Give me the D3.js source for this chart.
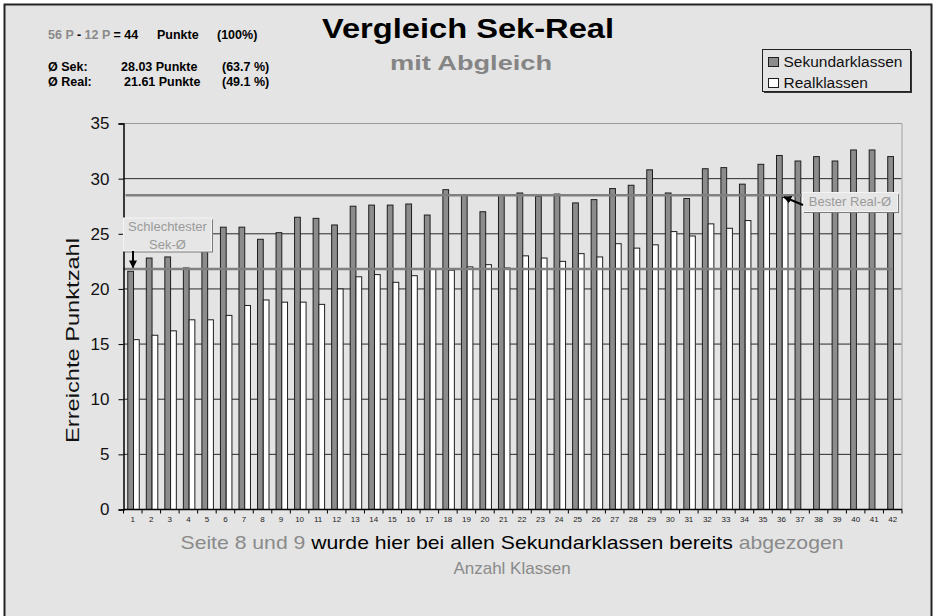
<!DOCTYPE html>
<html>
<head>
<meta charset="utf-8">
<script src="https://cdn.jsdelivr.net/npm/d3@7"></script>
<style>
  body { margin: 0; background: #fff; }
  svg { display: block; font-family: "Liberation Sans", Arial, sans-serif; }
</style>
</head>
<body>
<svg id="chart" width="935" height="616"></svg>
<script>
// tick labels on the x axis (class numbers)
var classes = [1, 2, 3, 4, 5, 6, 7, 8, 9, 10, 11, 12, 13, 14, 15, 16, 17, 18, 19, 20, 21,
               22, 23, 24, 25, 26, 27, 28, 29, 30, 31, 32, 33, 34, 35, 36, 37, 38, 39, 40, 41, 42];

// Sekundarklassen, reached points per class
var sekValues = [21.6, 22.8, 22.9, 21.9, 24.2, 25.6, 25.6, 24.5, 25.1, 26.5, 26.4, 25.8, 27.5, 27.6,
                 27.6, 27.7, 26.7, 29.0, 28.5, 27.0, 28.5, 28.7, 28.4, 28.6, 27.8, 28.1, 29.1, 29.4,
                 30.8, 28.7, 28.2, 30.9, 31.0, 29.5, 31.3, 32.1, 31.6, 32.0, 31.6, 32.6, 32.6, 32.0];

// Realklassen, only 36 classes
var realValues = [15.4, 15.8, 16.2, 17.2, 17.2, 17.6, 18.5, 19.0, 18.8, 18.8, 18.6, 20.0, 21.1, 21.3,
                  20.6, 21.2, 21.8, 21.7, 22.0, 22.2, 21.9, 23.0, 22.8, 22.5, 23.2, 22.9, 24.1, 23.7,
                  24.0, 25.2, 24.8, 25.9, 25.5, 26.2, 28.5, 28.3, null, null, null, null, null, null];

var yTicks = [0, 5, 10, 15, 20, 25, 30, 35];
var seriesKeys = ["sek", "real"];
var seriesNames = ["Sekundarklassen", "Realklassen"];
var worstSekAvg = 21.8;
var bestRealAvg = 28.5;

var svg = d3.select("#chart"),
    plotLeft = 123.5, plotRight = 902, plotTop = 123.5, plotBottom = 509.5,
    sekFill = "#8c8c8c", barStroke = "#1e1e1e", bg = "#e4e4e4",
    grayText = "#8a8a8a";

/*
 * frame and background
 */
svg.append("rect")
    .attr("x", 4.5).attr("y", 4.5)
    .attr("width", 927).attr("height", 640)
    .attr("fill", bg)
    .attr("stroke", "#222")
    .attr("stroke-width", 2);

var x0 = d3.scaleBand().domain(classes).range([plotLeft, plotRight]).padding(0);
var x1 = d3.scaleBand().domain(seriesKeys)
    .range([x0.bandwidth() * 0.23, x0.bandwidth() * 0.85]);
var y = d3.scaleLinear().domain([0, 35]).range([plotBottom, plotTop]);

/*
 * grid lines, top line and right border are lighter
 */
svg.append("g").selectAll("line")
    .data(yTicks.filter(function(d) { return d > 0; }))
    .join("line")
    .attr("x1", plotLeft).attr("x2", plotRight)
    .attr("y1", function(d) { return y(d); })
    .attr("y2", function(d) { return y(d); })
    .attr("stroke", function(d) { return d === 35 ? "#999" : "#2a2a2a"; })
    .attr("stroke-width", 1);

svg.append("line")
    .attr("x1", plotRight).attr("x2", plotRight)
    .attr("y1", plotTop).attr("y2", plotBottom)
    .attr("stroke", "#b8b8b8").attr("stroke-width", 1.5);

/*
 * bars
 */
var rows = classes.map(function(c, i) {
    return {cls: c, sek: sekValues[i], real: realValues[i]};
});

var groups = svg.append("g").selectAll("g")
    .data(rows)
    .join("g")
    .attr("transform", function(d) { return "translate(" + x0(d.cls) + ",0)"; });

groups.selectAll("rect")
    .data(function(d) {
        return seriesKeys
            .filter(function(k) { return d[k] !== null; })
            .map(function(k) { return {key: k, value: d[k]}; });
    })
    .join("rect")
    .attr("x", function(d) { return x1(d.key); })
    .attr("width", x1.bandwidth())
    .attr("y", function(d) { return y(d.value); })
    .attr("height", function(d) { return y(0) - y(d.value); })
    .attr("fill", function(d) { return d.key === "sek" ? sekFill : "#fff"; })
    .attr("stroke", barStroke)
    .attr("stroke-width", 1);

/*
 * reference lines for worst Sek average and best Real average
 */
svg.append("line")
    .attr("x1", plotLeft).attr("x2", 892)
    .attr("y1", y(worstSekAvg)).attr("y2", y(worstSekAvg))
    .attr("stroke", "#808080").attr("stroke-width", 2.5);

svg.append("line")
    .attr("x1", plotLeft + 2).attr("x2", 803)
    .attr("y1", y(bestRealAvg)).attr("y2", y(bestRealAvg))
    .attr("stroke", "#808080").attr("stroke-width", 2.5);

/*
 * axes
 */
var yAxis = svg.append("g")
    .attr("transform", "translate(" + plotLeft + ",0)")
    .call(d3.axisLeft(y).tickValues(yTicks).tickSize(5).tickPadding(9));
yAxis.select(".domain").attr("stroke", "#000").attr("stroke-width", 1.5);
yAxis.selectAll(".tick line").attr("stroke", "#000");
yAxis.selectAll(".tick text")
    .attr("fill", "#111")
    .style("font-size", "17px");

svg.append("line")
    .attr("x1", plotLeft).attr("x2", plotRight)
    .attr("y1", plotBottom).attr("y2", plotBottom)
    .attr("stroke", "#000").attr("stroke-width", 1.5);

svg.append("g").selectAll("line")
    .data(classes.concat([null]))
    .join("line")
    .attr("x1", function(d, i) { return plotLeft + i * x0.step(); })
    .attr("x2", function(d, i) { return plotLeft + i * x0.step(); })
    .attr("y1", plotBottom).attr("y2", plotBottom + 4)
    .attr("stroke", "#000");

svg.append("g").selectAll("text")
    .data(classes)
    .join("text")
    .attr("x", function(d) { return x0(d) + x0.bandwidth() / 2; })
    .attr("y", 522)
    .attr("text-anchor", "middle")
    .attr("fill", "#222")
    .style("font-size", "8px")
    .text(function(d) { return d; });

svg.append("text")
    .attr("transform", "translate(79,340.5) rotate(-90)")
    .attr("text-anchor", "middle")
    .attr("textLength", 205)
    .attr("lengthAdjust", "spacingAndGlyphs")
    .attr("fill", "#111")
    .style("font-size", "19px")
    .text("Erreichte Punktzahl");

/*
 * titles
 */
svg.append("text")
    .attr("x", 468).attr("y", 38)
    .attr("text-anchor", "middle")
    .attr("textLength", 292)
    .attr("lengthAdjust", "spacingAndGlyphs")
    .style("font-size", "28px").style("font-weight", "bold")
    .text("Vergleich Sek-Real");

svg.append("text")
    .attr("x", 471).attr("y", 70)
    .attr("text-anchor", "middle")
    .attr("textLength", 162)
    .attr("lengthAdjust", "spacingAndGlyphs")
    .attr("fill", "#858585")
    .style("font-size", "21px").style("font-weight", "bold")
    .text("mit Abgleich");

var bottomLine = svg.append("text")
    .attr("x", 512).attr("y", 549)
    .attr("text-anchor", "middle")
    .attr("textLength", 663)
    .attr("lengthAdjust", "spacingAndGlyphs")
    .style("font-size", "19px");
bottomLine.append("tspan").attr("fill", grayText).text("Seite 8 und 9 ");
bottomLine.append("tspan").attr("fill", "#000").text("wurde hier bei allen Sekundarklassen bereits ");
bottomLine.append("tspan").attr("fill", grayText).text("abgezogen");

svg.append("text")
    .attr("x", 512).attr("y", 574)
    .attr("text-anchor", "middle")
    .attr("fill", grayText)
    .style("font-size", "17px")
    .text("Anzahl Klassen");

/*
 * info block top left
 */
var info = svg.append("g").style("font-size", "12.5px").style("font-weight", "bold");
var line1 = info.append("text").attr("x", 48).attr("y", 39);
line1.append("tspan").attr("fill", grayText).text("56 P");
line1.append("tspan").attr("fill", "#000").text(" - ");
line1.append("tspan").attr("fill", grayText).text("12 P");
line1.append("tspan").attr("fill", "#000").text(" = 44");
info.append("text").attr("x", 157).attr("y", 39).text("Punkte");
info.append("text").attr("x", 217).attr("y", 39).text("(100%)");

info.append("text").attr("x", 48).attr("y", 70.5).text("Ø Sek:");
info.append("text").attr("x", 121).attr("y", 70.5).text("28.03 Punkte");
info.append("text").attr("x", 222).attr("y", 70.5).text("(63.7 %)");
info.append("text").attr("x", 48).attr("y", 85.5).text("Ø Real:");
info.append("text").attr("x", 124).attr("y", 85.5).text("21.61 Punkte");
info.append("text").attr("x", 222).attr("y", 85.5).text("(49.1 %)");

/*
 * legend
 */
var legend = svg.append("g");
legend.append("rect")
    .attr("x", 764).attr("y", 51).attr("width", 148).attr("height", 42)
    .attr("fill", "#333");
legend.append("rect")
    .attr("x", 762.5).attr("y", 49.5).attr("width", 148).attr("height", 42)
    .attr("fill", bg).attr("stroke", "#222").attr("stroke-width", 1);
legend.selectAll("g")
    .data(seriesKeys)
    .join("g")
    .attr("transform", function(d, i) { return "translate(768.5," + (57.5 + i * 21) + ")"; })
    .each(function(d, i) {
        var g = d3.select(this);
        g.append("rect")
            .attr("width", 10).attr("height", 9)
            .attr("fill", d === "sek" ? sekFill : "#fff")
            .attr("stroke", barStroke);
        g.append("text")
            .attr("x", 15).attr("y", 9.5)
            .attr("fill", "#111")
            .style("font-size", "15.5px")
            .text(seriesNames[i]);
    });

/*
 * annotation boxes with arrows
 */
function drawNote(x, yTop, w, h, lines) {
    svg.append("rect")
        .attr("x", x + 1.5).attr("y", yTop + 1.5).attr("width", w).attr("height", h)
        .attr("fill", "#7a7a7a");
    svg.append("rect")
        .attr("x", x).attr("y", yTop).attr("width", w).attr("height", h)
        .attr("fill", "#e6e6e6").attr("stroke", "#f4f4f4").attr("stroke-width", 1);
    lines.forEach(function(t, i) {
        svg.append("text")
            .attr("x", x + w / 2).attr("y", yTop + 13 + i * 18)
            .attr("text-anchor", "middle")
            .attr("fill", "#9a9a9a")
            .style("font-size", "13px")
            .text(t);
    });
}

svg.append("defs").append("marker")
    .attr("id", "arrow")
    .attr("viewBox", "0 0 10 10")
    .attr("refX", 9).attr("refY", 5)
    .attr("markerWidth", 4).attr("markerHeight", 4)
    .attr("orient", "auto")
    .append("path").attr("d", "M0,0L10,5L0,10Z").attr("fill", "#000");

drawNote(123.5, 218, 88, 33, ["Schlechtester", "Sek-Ø"]);
drawNote(802.5, 192.5, 95, 19, ["Bester Real-Ø"]);

svg.append("line")
    .attr("x1", 133).attr("y1", 251).attr("x2", 133).attr("y2", y(worstSekAvg) - 1.5)
    .attr("stroke", "#000").attr("stroke-width", 2)
    .attr("marker-end", "url(#arrow)");

svg.append("line")
    .attr("x1", 803).attr("y1", 205).attr("x2", 784).attr("y2", 197)
    .attr("stroke", "#000").attr("stroke-width", 2)
    .attr("marker-end", "url(#arrow)");
</script>
</body>
</html>
